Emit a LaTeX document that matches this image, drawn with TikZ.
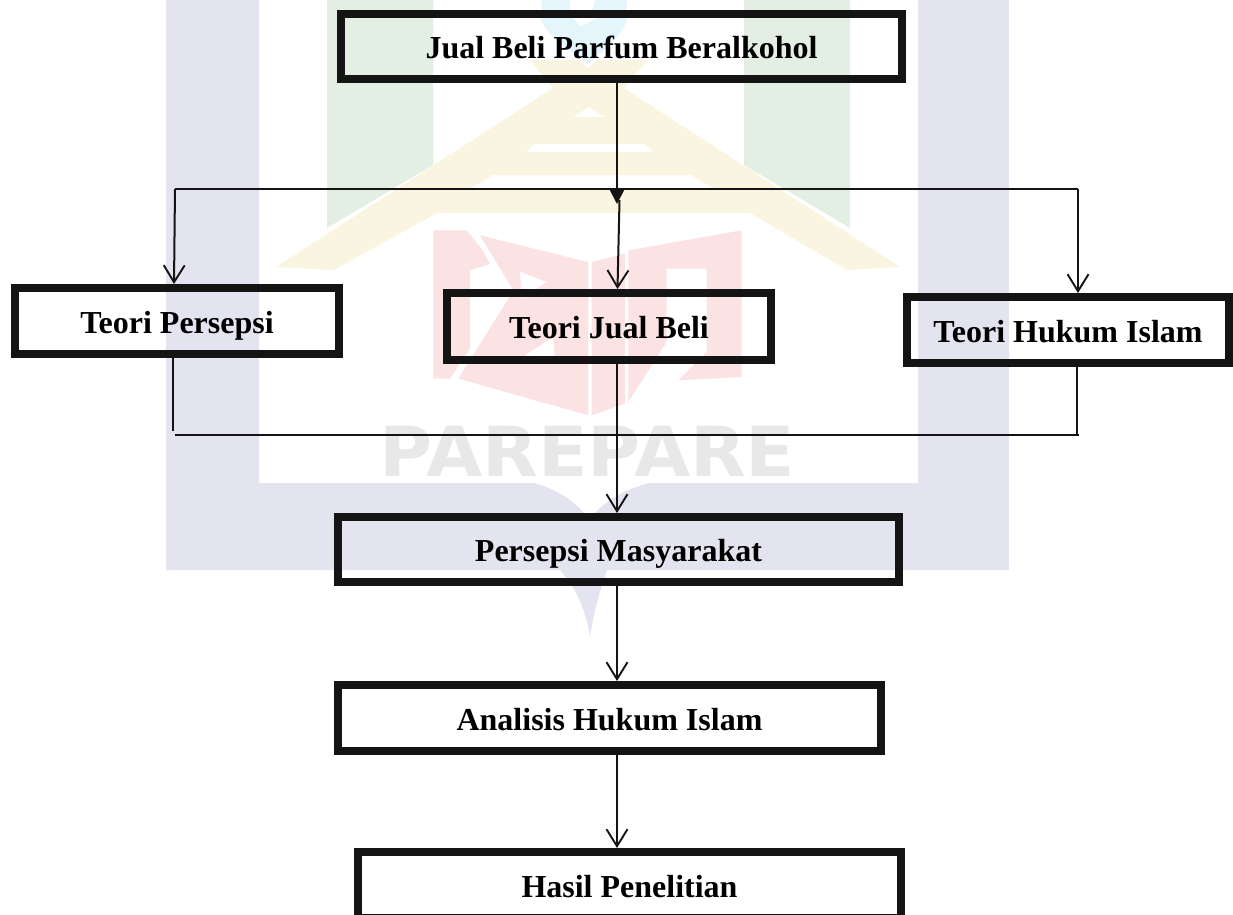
\documentclass[tikz,border=0pt]{standalone}
\usepackage{fontspec}
\setmainfont{Liberation Serif}
\newfontfamily\wmfont{DejaVu Sans}
\usetikzlibrary{arrows.meta}
\definecolor{wmblue}{HTML}{E3E4EF}
\definecolor{wmgreen}{HTML}{E3EFE3}
\definecolor{wmyellow}{HTML}{F9F5E1}
\definecolor{wmred}{HTML}{FBE3E4}
\definecolor{wmsky}{HTML}{E4F5FB}
\definecolor{wmgrey}{HTML}{E8E8E8}
\definecolor{ink}{HTML}{141414}
\tikzset{
  boxnode/.style={draw=ink,line width=8,inner sep=0,align=center,text height=24.5,text depth=0,
    font=\bfseries\fontsize{32}{36}\selectfont,text=black},
  conn/.style={draw=ink,line width=2},
  openarrow/.style={conn,-{Straight Barb[length=17,width=21,line width=1.9]}},
  solidarrow/.style={conn,-{Triangle[length=16,width=16]}}
}
\begin{document}
\begin{tikzpicture}[x=1pt,y=-1pt]
\clip (0,0) rectangle (1233,914);
% watermark
\fill[wmblue] (166,0) -- (259,0) -- (259,483) -- (534,483) .. controls (560,490) and (580,505) .. (589,520)
  .. controls (600,505) and (620,490) .. (650,483) -- (918,483) -- (918,0) -- (1009,0) -- (1009,570)
  -- (607,570) .. controls (600,590) and (593,615) .. (590,637) .. controls (587,615) and (578,590) .. (560,570)
  -- (166,570) -- cycle;
\fill[wmgreen] (327,0) -- (433,0) -- (433,165) -- (327,228) -- cycle;
\fill[wmgreen] (744,0) -- (850,0) -- (850,228) -- (744,165) -- cycle;
\fill[wmyellow,even odd rule]
  (530,60) -- (648,60) -- (624,88) -- (900,267) -- (847,270) -- (750,213) -- (437,213) -- (334,270) -- (276,267) -- (553,88) -- cycle
  (573,117) -- (589,107) -- (605,117) -- cycle
  (534,144) -- (645,144) -- (653,152) -- (526,152) -- cycle
  (493,175) -- (691,175) -- (712,188) -- (472,188) -- cycle;
\fill[wmsky,draw=white,line width=3] (540,-3) -- (628,-3) -- (628,22) .. controls (620,42) and (600,55) .. (588,66)
  .. controls (576,55) and (550,42) .. (540,22) -- cycle;
\fill[white] (570,0) -- (595,0) -- (592,10) -- (598,18) -- (580,26) -- (570,15) -- cycle;
\begin{scope}[shift={(425,222)},scale=0.3333]
\fill[wmred] (25,25) -- (125,25) -- (170,80) -- (195,125) -- (135,145) -- (135,380) -- (75,470) -- (25,470) -- cycle;
\fill[wmred] (165,40) -- (490,120) -- (490,580) -- (100,470) -- (250,230) -- (265,205) -- cycle;
\fill[white] (285,150) -- (365,180) -- (290,230) -- cycle;
\fill[white] (300,400) -- (385,345) -- (390,425) -- cycle;
\fill[wmred] (500,120) -- (600,95) -- (600,545) -- (500,580) -- cycle;
\fill[wmred] (610,85) -- (950,25) -- (950,465) -- (760,475) -- (845,390) -- (845,140) -- (725,140) -- (725,360) -- (610,540) -- cycle;
\end{scope}
\node[text=wmgrey,font=\wmfont\bfseries\fontsize{69}{70}\selectfont,inner sep=0,anchor=base,xscale=1.05] (wm) at (587.5,476) {PAREPARE};
% boxes
\node[boxnode,minimum width=561,minimum height=65] (top) at (621.5,46.5) {Jual Beli Parfum Beralkohol};
\node[boxnode,minimum width=324,minimum height=66] (persepsi) at (177,321) {Teori Persepsi};
\node[boxnode,minimum width=324,minimum height=67] (jual) at (609,326.5) {Teori Jual Beli};
\node[boxnode,minimum width=322,minimum height=66] (hukum) at (1068,330) {Teori Hukum Islam};
\node[boxnode,minimum width=561,minimum height=65] (masy) at (618.5,549.5) {Persepsi Masyarakat};
\node[boxnode,minimum width=543,minimum height=66] (analisis) at (609.5,718) {Analisis Hukum Islam};
\node[boxnode,minimum width=543,minimum height=66] (hasil) at (629.5,885) {Hasil Penelitian};
% connector points
\coordinate (busL) at (175,189);
\coordinate (busR) at (1078,189);
\coordinate (lowL) at (175,435);
\coordinate (lowR) at (1079,435);
\coordinate (spine) at (617,0);
\coordinate (hub) at (617,204);
\coordinate (hubout) at (619.5,200);
\coordinate (tipP) at (174,0);
\coordinate (tipJ) at (617.5,0);
\coordinate (drop) at (173,431);
\coordinate (colR) at (1077,0);
\coordinate (jualout) at (617,0);
% connectors
\draw[solidarrow] (top.south -| spine) -- (hub);
\draw[conn] (busL) -- (busR);
\draw[openarrow] (busL) -- (persepsi.north -| tipP);
\draw[openarrow] (hubout) -- (jual.north -| tipJ);
\draw[openarrow] (busR) -- (hukum.north -| busR);
\draw[conn] (persepsi.south -| drop) -- (drop);
\draw[conn] (jual.south -| jualout) -- (lowL -| jualout);
\draw[conn] (hukum.south -| colR) -- (lowR -| colR);
\draw[conn] (lowL) -- (lowR);
\draw[openarrow] (lowL -| jualout) -- (masy.north -| jualout);
\draw[openarrow] (masy.south -| jualout) -- (analisis.north -| jualout);
\draw[openarrow] (analisis.south -| jualout) -- (hasil.north -| jualout);
\end{tikzpicture}
\end{document}
